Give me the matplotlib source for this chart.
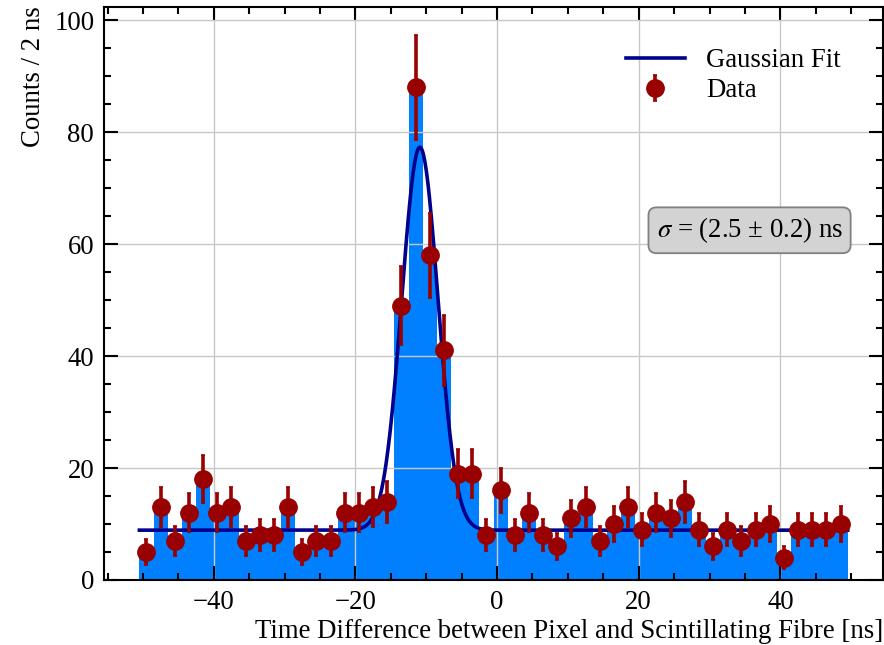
"""Time difference histogram between pixel and scintillating fibre, with Gaussian fit."""

import matplotlib
matplotlib.use("Agg")
import matplotlib.pyplot as plt
import numpy as np

plt.rcParams["font.family"] = ["Liberation Serif", "DejaVu Serif"]
plt.rcParams["mathtext.fontset"] = "stix"
plt.rcParams["axes.unicode_minus"] = True

# ── data ─────────────────────────────────────────────────────────────────────
bin_edges = np.arange(-50.5, 50.5, 2.0)        # 2 ns bins
counts = [5, 13, 7, 12, 18, 12, 13, 7, 8, 8,
          13, 5, 7, 7, 12, 12, 13, 14, 49, 88,
          58, 41, 19, 19, 8, 16, 8, 12, 8, 6,
          11, 13, 7, 10, 13, 9, 12, 11, 14, 9,
          6, 9, 7, 9, 10, 4, 9, 9, 9, 10]

# fit result
fit_amp = 68.4
fit_mu = -10.9
fit_sigma = 2.55
fit_bkg = 8.9

BAR_COLOR = "#0080ff"
DATA_COLOR = "#990000"
FIT_COLOR = "#00008b"
FS = 19.3

centers = 0.5 * (bin_edges[:-1] + bin_edges[1:])
counts = np.array(counts, dtype=float)
errors = np.sqrt(counts)

fig = plt.figure(figsize=(8.84, 6.45), dpi=100)
ax = fig.add_axes([0.1176, 0.1008, 0.8814, 0.8888])

ax.hist(centers, bins=bin_edges, weights=counts, histtype="stepfilled",
        color=BAR_COLOR, zorder=1)

xfit = np.linspace(bin_edges[0], bin_edges[-1], 1000)
yfit = fit_bkg + fit_amp * np.exp(-0.5 * ((xfit - fit_mu) / fit_sigma) ** 2)
ax.plot(xfit, yfit, color=FIT_COLOR, lw=2.6, label="Gaussian Fit", zorder=3)

ax.errorbar(centers, counts, yerr=errors, fmt="o", color=DATA_COLOR,
            ms=12.5, elinewidth=2.6, capsize=1.5, capthick=1.2,
            label="Data", zorder=4)

ax.set_xlim(-55.5, 54.5)
ax.set_ylim(0, 102.4)
ax.set_xticks(np.arange(-40, 41, 20))
ax.set_yticks(np.arange(0, 101, 20))
ax.xaxis.set_minor_locator(matplotlib.ticker.MultipleLocator(5))
ax.yaxis.set_minor_locator(matplotlib.ticker.MultipleLocator(5))
ax.tick_params(which="both", direction="in", top=True, right=True,
               labelsize=FS, width=1.5, pad=7)
ax.tick_params(which="major", length=10)
ax.tick_params(which="minor", length=5)
for sp in ax.spines.values():
    sp.set_linewidth(1.5)

ax.grid(True, which="major", color="#c8c8c8", lw=1)
ax.set_axisbelow("line")

ax.set_xlabel("Time Difference between Pixel and Scintillating Fibre [ns]",
              fontsize=FS, loc="right", labelpad=3)
ax.set_ylabel("Counts / 2 ns", fontsize=FS, loc="top", labelpad=6)

ax.legend(loc="upper right", bbox_to_anchor=(0.977, 0.97), frameon=False,
          fontsize=FS, handlelength=2.2, handletextpad=0.8, labelspacing=0.2)

ax.text(0.948, 0.61, r"$\sigma$ = (2.5 ± 0.2) ns", transform=ax.transAxes,
        ha="right", va="center", fontsize=FS,
        bbox=dict(boxstyle="round,pad=0.3", facecolor="#d3d3d3",
                  edgecolor="#808080", lw=1.3))

plt.savefig("out.png", dpi=100)
